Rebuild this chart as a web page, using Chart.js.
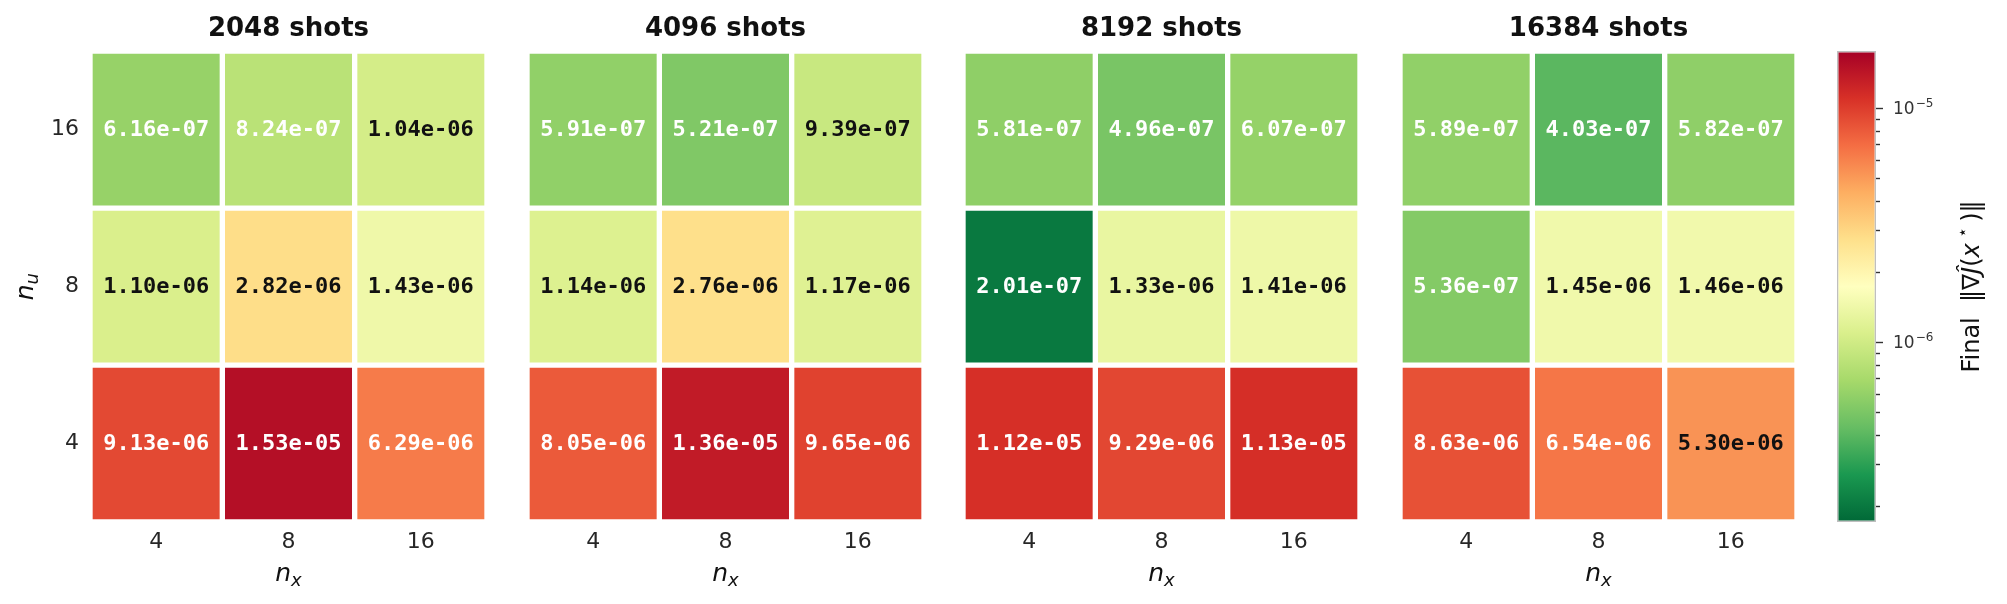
<!DOCTYPE html>
<html>
<head>
<meta charset="utf-8">
<script src="https://cdn.jsdelivr.net/npm/chart.js@4.4.0/dist/chart.umd.min.js"></script>
<style>
  html, body { margin: 0; padding: 0; background: #fff; }
  #wrap { position: relative; width: 2007px; height: 604px; overflow: hidden; }
  #wrap canvas { position: absolute; top: 0; }
</style>
</head>
<body>
<div id="wrap">
  <canvas id="p0"></canvas>
  <canvas id="p1"></canvas>
  <canvas id="p2"></canvas>
  <canvas id="p3"></canvas>
  <canvas id="cbar"></canvas>
</div>
<script>
// ---- dados ----
var PANEL_TITLES = ['2048 shots', '4096 shots', '8192 shots', '16384 shots'];
var NX_LABELS = ['4', '8', '16'];
var NU_LABELS = ['4', '8', '16'];   // de baixo para cima

// linhas: n_u = 4, 8, 16 ; colunas: n_x = 4, 8, 16
var GRAD_2048  = [[9.13e-6, 1.53e-5, 6.29e-6], [1.10e-6, 2.82e-6, 1.43e-6], [6.16e-7, 8.24e-7, 1.04e-6]];
var GRAD_4096  = [[8.05e-6, 1.36e-5, 9.65e-6], [1.14e-6, 2.76e-6, 1.17e-6], [5.91e-7, 5.21e-7, 9.39e-7]];
var GRAD_8192  = [[1.12e-5, 9.29e-6, 1.13e-5], [2.01e-7, 1.33e-6, 1.41e-6], [5.81e-7, 4.96e-7, 6.07e-7]];
var GRAD_16384 = [[8.63e-6, 6.54e-6, 5.30e-6], [5.36e-7, 1.45e-6, 1.46e-6], [5.89e-7, 4.03e-7, 5.82e-7]];

var COLOR_MIN = 1.71e-7;
var COLOR_MAX = 1.76e-5;
var CBAR_TICKS = [2e-7, 3e-7, 4e-7, 5e-7, 6e-7, 7e-7, 8e-7, 9e-7, 1e-6,
                  2e-6, 3e-6, 4e-6, 5e-6, 6e-6, 7e-6, 8e-6, 9e-6, 1e-5];

// ---- layout ----
var PANEL_AREA_LEFT = [90, 527, 963, 1400];
var AREA_W = 397;
var YAXIS_W = 90;
var H = 604;
var AREA_BOTTOM = 522;

// RdYlGn invertido (verde = baixo, vermelho = alto)
var CMAP = ['#006837', '#1a9850', '#66bd63', '#a6d96a', '#d9ef8b', '#ffffbf',
            '#fee08b', '#fdae61', '#f46d43', '#d73027', '#a50026'];

function hexRgb(h) {
  return [parseInt(h.substr(1, 2), 16), parseInt(h.substr(3, 2), 16), parseInt(h.substr(5, 2), 16)];
}
function norm(v) {
  var a = Math.log10(COLOR_MIN), b = Math.log10(COLOR_MAX);
  return Math.min(1, Math.max(0, (Math.log10(v) - a) / (b - a)));
}
function cmapColor(t) {
  var p = t * (CMAP.length - 1);
  var i = Math.min(CMAP.length - 2, Math.floor(p));
  var f = p - i;
  var c0 = hexRgb(CMAP[i]), c1 = hexRgb(CMAP[i + 1]);
  var c = c0.map(function (x, k) { return Math.round(x + (c1[k] - x) * f); });
  return 'rgb(' + c.join(',') + ')';
}
function fmt(v) {
  var e = Math.floor(Math.log10(v));
  var m = v / Math.pow(10, e);
  if (m.toFixed(2) === '10.00') { m = m / 10; e += 1; }
  return m.toFixed(2) + 'e' + (e < 0 ? '-' : '+') + String(Math.abs(e)).padStart(2, '0');
}
function textColor(v) {
  var t = norm(v);
  return (t < 0.353 || t > 0.76) ? '#ffffff' : '#111111';
}
function isDecade(v) {
  var l = Math.log10(v);
  return Math.abs(l - Math.round(l)) < 1e-9;
}

// valores dentro das células
var cellLabels = {
  id: 'cellLabels',
  afterDatasetsDraw: function (chart) {
    var ctx = chart.ctx;
    ctx.save();
    ctx.font = 'bold 22px "DejaVu Sans Mono", monospace';
    ctx.textAlign = 'center';
    ctx.textBaseline = 'middle';
    chart.data.datasets.forEach(function (ds, di) {
      chart.getDatasetMeta(di).data.forEach(function (el, i) {
        var v = ds.values[i];
        ctx.fillStyle = textColor(v);
        ctx.fillText(fmt(v), el.x, (el.y + el.base) / 2 + 1);
      });
    });
    ctx.restore();
  }
};

// n_x / n_u com subscrito
function drawSubLabel(ctx, main, sub, cx, cy) {
  var fMain = 'italic 25px "DejaVu Sans"', fSub = 'italic 18px "DejaVu Sans"';
  ctx.font = fMain; var w1 = ctx.measureText(main).width;
  ctx.font = fSub;  var w2 = ctx.measureText(sub).width;
  var x = cx - (w1 + w2) / 2;
  ctx.textAlign = 'left';
  ctx.textBaseline = 'alphabetic';
  ctx.font = fMain; ctx.fillText(main, x, cy + 7);
  ctx.font = fSub;  ctx.fillText(sub, x + w1, cy + 12);
}
var axisTitles = {
  id: 'axisTitles',
  afterDraw: function (chart, args, opts) {
    var ctx = chart.ctx, a = chart.chartArea;
    ctx.save();
    ctx.fillStyle = '#111';
    drawSubLabel(ctx, 'n', 'x', (a.left + a.right) / 2, 574);
    if (opts.showY) {
      ctx.translate(26, (a.top + a.bottom) / 2);
      ctx.rotate(-Math.PI / 2);
      drawSubLabel(ctx, 'n', 'u', 0, 0);
    }
    ctx.restore();
  }
};

function makePanel(idx, grid) {
  var canvas = document.getElementById('p' + idx);
  var showY = idx === 0;
  var w = AREA_W + (showY ? YAXIS_W : 0);
  var left = PANEL_AREA_LEFT[idx] - (showY ? YAXIS_W : 0);
  canvas.width = w; canvas.height = H;
  canvas.style.left = left + 'px';
  canvas.style.width = w + 'px'; canvas.style.height = H + 'px';

  var datasets = grid.map(function (row, r) {
    return {
      data: row.map(function () { return [r, r + 1]; }),
      values: row,
      backgroundColor: row.map(function (v) { return cmapColor(norm(v)); }),
      borderColor: '#ffffff',
      borderWidth: 3,
      borderSkipped: false,
      grouped: false,
      barPercentage: 1,
      categoryPercentage: 1
    };
  });

  return new Chart(canvas, {
    type: 'bar',
    data: { labels: NX_LABELS, datasets: datasets },
    plugins: [cellLabels, axisTitles],
    options: {
      responsive: false,
      animation: false,
      devicePixelRatio: 1,
      layout: { padding: 0 },
      plugins: {
        legend: { display: false },
        tooltip: { enabled: false },
        axisTitles: { showY: showY },
        title: {
          display: true,
          fullSize: false,
          text: PANEL_TITLES[idx],
          color: '#111',
          font: { family: 'DejaVu Sans', size: 26, weight: 'bold' },
          padding: { top: 14, bottom: 6 }
        }
      },
      scales: {
        x: {
          type: 'category',
          grid: { display: false, drawTicks: false },
          border: { display: false },
          ticks: {
            color: '#262626', padding: 7, maxRotation: 0, autoSkip: false,
            font: { family: 'DejaVu Sans', size: 22 }
          },
          afterFit: function (s) { s.height = H - AREA_BOTTOM; }
        },
        y: {
          type: 'linear',
          display: showY,
          min: 0, max: 3,
          grid: { display: false, drawTicks: false },
          border: { display: false },
          afterBuildTicks: function (s) {
            s.ticks = NU_LABELS.map(function (_, i) { return { value: i + 0.5 }; });
          },
          ticks: {
            color: '#262626', padding: 11, autoSkip: false,
            font: { family: 'DejaVu Sans', size: 22 },
            callback: function (v) { return NU_LABELS[Math.floor(v)]; }
          },
          afterFit: function (s) { s.width = showY ? YAXIS_W : 0; }
        }
      }
    }
  });
}

[GRAD_2048, GRAD_4096, GRAD_8192, GRAD_16384].forEach(function (g, i) { makePanel(i, g); });

// ---- barra de cores ----
var cbarLabel = {
  id: 'cbarLabel',
  afterDraw: function (chart) {
    var ctx = chart.ctx;
    var scale = chart.scales.y;

    // rótulos 10^k com expoente elevado
    ctx.save();
    ctx.fillStyle = '#333';
    ctx.textAlign = 'left';
    ctx.textBaseline = 'middle';
    scale.ticks.forEach(function (t) {
      if (!isDecade(t.value)) return;
      var y = scale.getPixelForValue(t.value);
      var x = scale.left + 17;
      ctx.font = '17px "DejaVu Sans"';
      ctx.fillText('10', x, y + 1);
      var w = ctx.measureText('10').width;
      ctx.font = '12px "DejaVu Sans"';
      ctx.fillText('\u2212' + Math.abs(Math.round(Math.log10(t.value))), x + w + 1, y - 5);
    });
    ctx.restore();

    var segs = [
      { t: 'Final', f: '24px "DejaVu Sans"', dy: 0 },
      { t: '  \u2016\u2207', f: '24px "DejaVu Sans"', dy: 0 },
      { t: '\u0134', f: 'italic 24px "DejaVu Sans"', dy: 0 },
      { t: '(', f: '24px "DejaVu Sans"', dy: 0 },
      { t: 'x', f: 'italic 24px "DejaVu Sans"', dy: 0 },
      { t: ' \u22C6 ', f: '17px "DejaVu Sans"', dy: -9 },
      { t: ')\u2016', f: '24px "DejaVu Sans"', dy: 0 }
    ];
    ctx.save();
    var total = 0;
    segs.forEach(function (s) { ctx.font = s.f; s.w = ctx.measureText(s.t).width; total += s.w; });
    var cy = (chart.chartArea.top + chart.chartArea.bottom) / 2;
    ctx.translate(173, cy);
    ctx.rotate(-Math.PI / 2);
    ctx.fillStyle = '#111';
    ctx.textBaseline = 'middle';
    ctx.textAlign = 'left';
    var x = -total / 2;
    segs.forEach(function (s) {
      ctx.font = s.f;
      ctx.fillText(s.t, x, s.dy);
      x += s.w;
    });
    ctx.restore();
  }
};

(function () {
  var canvas = document.getElementById('cbar');
  canvas.width = 207; canvas.height = H;
  canvas.style.left = '1800px';
  canvas.style.width = '207px'; canvas.style.height = H + 'px';

  new Chart(canvas, {
    type: 'bar',
    data: {
      labels: [''],
      datasets: [{
        data: [[COLOR_MIN, COLOR_MAX]],
        backgroundColor: function (c) {
          var area = c.chart.chartArea;
          if (!area) return '#ffffbf';
          var g = c.chart.ctx.createLinearGradient(0, area.bottom, 0, area.top);
          CMAP.forEach(function (col, i) { g.addColorStop(i / (CMAP.length - 1), col); });
          return g;
        },
        borderColor: '#bfbfbf',
        borderWidth: 1.5,
        borderSkipped: false,
        inflateAmount: 0,
        barPercentage: 1,
        categoryPercentage: 1
      }]
    },
    plugins: [cbarLabel],
    options: {
      responsive: false,
      animation: false,
      devicePixelRatio: 1,
      layout: { padding: { top: 51, bottom: H - AREA_BOTTOM, left: 37, right: 0 } },
      plugins: { legend: { display: false }, tooltip: { enabled: false } },
      scales: {
        x: { display: false },
        y: {
          type: 'logarithmic',
          position: 'right',
          min: COLOR_MIN, max: COLOR_MAX,
          border: { display: false },
          grid: {
            drawOnChartArea: false,
            drawTicks: true,
            tickLength: 7,
            tickWidth: 1.4,
            tickColor: '#333',
            tickBorderDash: function (c) {
              return (c.tick && isDecade(c.tick.value)) ? [] : [4, 20];
            }
          },
          afterBuildTicks: function (s) {
            s.ticks = CBAR_TICKS.map(function (v) { return { value: v }; });
          },
          ticks: {
            autoSkip: false, padding: 10,
            font: { family: 'DejaVu Sans', size: 17 },
            callback: function () { return ''; }
          },
          afterFit: function (s) { s.width = 131; }
        }
      }
    }
  });
})();
</script>
</body>
</html>
